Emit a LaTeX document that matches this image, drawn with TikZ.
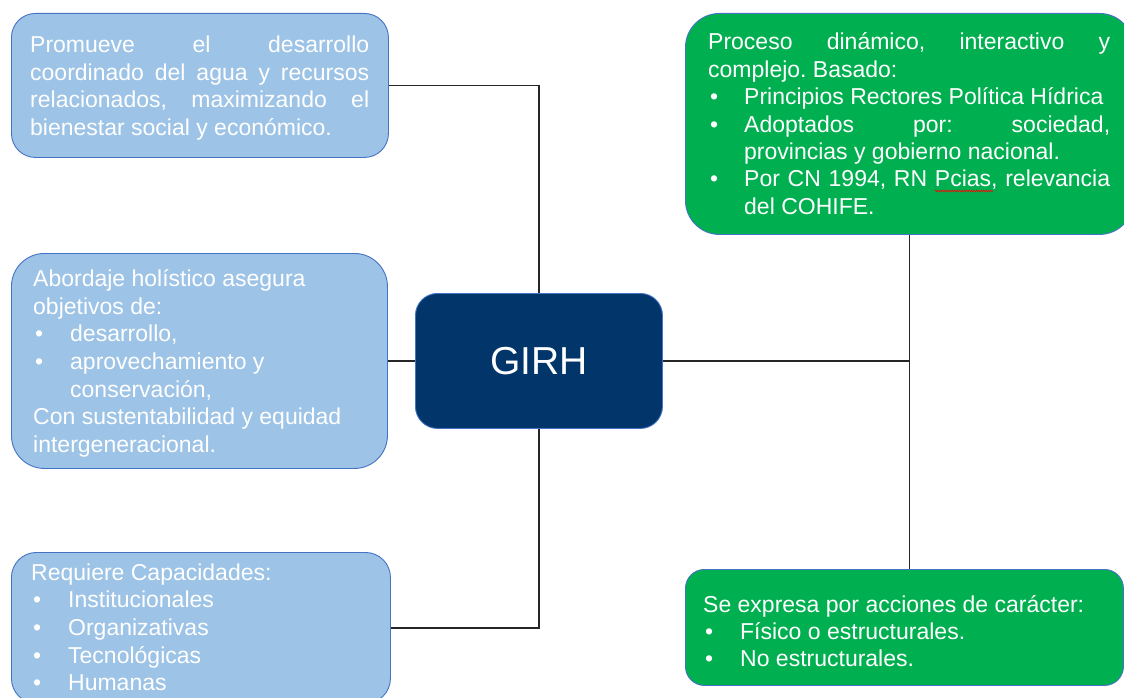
\documentclass[tikz,border=0pt]{standalone}
\usepackage{fontspec}
\setmainfont{Liberation Sans}
\usetikzlibrary{decorations.pathmorphing}
\definecolor{lblue}{HTML}{9DC3E6}
\definecolor{bord}{HTML}{4472C4}
\definecolor{navy}{HTML}{02356A}
\definecolor{grn}{HTML}{00B050}
\frenchspacing
\newcommand\Lines[2]{\vtop{\baselineskip=#1\lineskiplimit=-\maxdimen\lineskip=0pt #2}}
\newcommand\Jl[2]{\hbox to #1{#2}}
\newcommand\Nl[1]{\hbox{#1}}
\newcommand\Bl[2]{\hbox{\hbox to #1{\kern2pt •\hss}#2}}
\newcommand\BJl[3]{\hbox to #2{\hbox to #1{\kern2pt •\hss}#3}}
\begin{document}
\begin{tikzpicture}[x=1pt,y=-1pt,
  box/.style={draw=bord, line width=0.9pt, rectangle, inner sep=0pt, anchor=north west},
  bluebox/.style={box, fill=lblue},
  greenbox/.style={box, fill=grn},
  txt/.style={anchor=base west, inner sep=0pt, text=white, font=\fontsize{23}{27.6}\selectfont},
  conn/.style={draw=black!85, line width=1.7pt}]
\useasboundingbox (0,0) rectangle (1124,698);
\clip (0,0) rectangle (1124,698);

% boxes
\node[bluebox, rounded corners=24pt, minimum width=377pt, minimum height=144pt] (tl) at (11,13) {};
\node[bluebox, rounded corners=33pt, minimum width=376pt, minimum height=215pt] (ml) at (11,253) {};
\node[bluebox, rounded corners=25pt, minimum width=379pt, minimum height=151pt] (bl) at (11,552) {};
\node[greenbox, rounded corners=34pt, minimum width=448pt, minimum height=221pt] (tr) at (685,13) {};
\node[greenbox, rounded corners=19pt, minimum width=438pt, minimum height=116pt] (br) at (685,569) {};
\node[box, fill=navy, rounded corners=22pt, minimum width=247pt, minimum height=135pt] (girh) at (415,293) {};
\node[text=white, font=\fontsize{39}{44}\selectfont, inner sep=0pt] (girht) at (girh.center) {GIRH};

% connectors
\draw[conn] (tl.east) -| (girh.north);
\draw[conn] (ml.east) -- (girh.west);
\draw[conn] (girh.south) |- (bl.east);
\coordinate (j) at (girh.east -| tr.south);
\draw[conn] (girh.east) -- (j);
\draw[conn] (tr.south) -- (tr.south |- br.north);

% texts
\node[txt] (tltext) at (30,52.7) {\Lines{27.5pt}{%
  \Jl{339pt}{Promueve el desarrollo}
  \Jl{339pt}{coordinado del agua y recursos}
  \Jl{339pt}{relacionados, maximizando el}
  \Nl{bienestar social y económico.}}};

\node[txt] (mltext) at (33,286.7) {\Lines{27.6pt}{%
  \Nl{Abordaje holístico asegura}
  \Nl{objetivos de:}
  \Bl{37pt}{desarrollo,}
  \Bl{37pt}{aprovechamiento y}
  \Nl{\kern37pt conservación,}
  \Nl{Con sustentabilidad y equidad}
  \Nl{intergeneracional.}}};

\node[txt] (bltext) at (31,580) {\Lines{27.7pt}{%
  \Nl{Requiere Capacidades:}
  \Bl{37pt}{Institucionales}
  \Bl{37pt}{Organizativas}
  \Bl{37pt}{Tecnológicas}
  \Bl{37pt}{Humanas}}};

\node[txt] (trtext) at (708,50) {\Lines{27.4pt}{%
  \Jl{402pt}{Proceso dinámico, interactivo y}
  \Nl{complejo. Basado:}
  \Bl{36pt}{Principios Rectores Política Hídrica}
  \BJl{36pt}{402pt}{Adoptados por: sociedad,}
  \Nl{\kern36pt provincias y gobierno nacional.}
  \BJl{36pt}{402pt}{Por CN 1994, RN Pcias, relevancia}
  \Nl{\kern36pt del COHIFE.}}};

\node[txt] (brtext) at (703,612.7) {\Lines{27pt}{%
  \Nl{Se expresa por acciones de carácter:}
  \Bl{37pt}{Físico o estructurales.}
  \Bl{37pt}{No estructurales.}}};

% spell-check underline
\draw[red, line width=0.6pt, decorate, decoration={zigzag, amplitude=0.8pt, segment length=2.4pt}] (935,191) -- (993,191);
\end{tikzpicture}
\end{document}
